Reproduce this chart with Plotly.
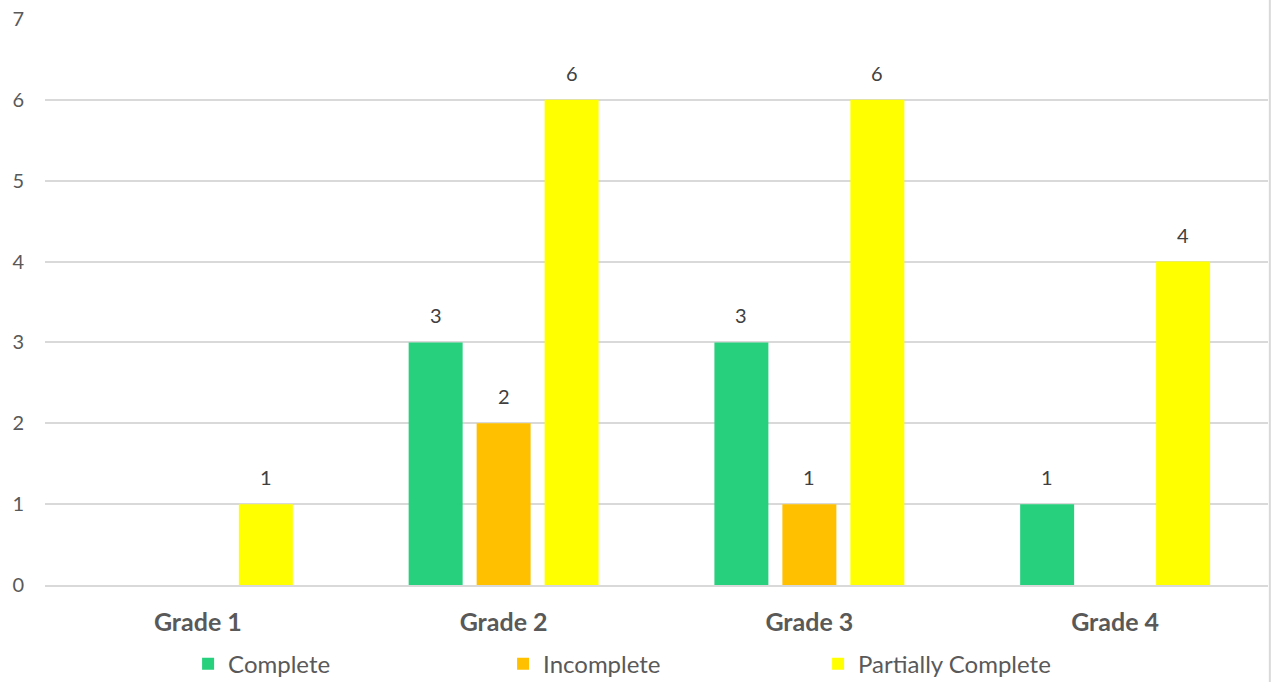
import plotly.graph_objects as go

categories = ["Grade 1", "Grade 2", "Grade 3", "Grade 4"]
complete = [None, 3, 3, 1]
incomplete = [None, 2, 1, None]
partially = [1, 6, 6, 4]
series_names = ["Complete", "Incomplete", "Partially Complete"]
series_colors = ["#26D07C", "#FFC000", "#FFFF00"]
y_ticks = [0, 1, 2, 3, 4, 5, 6, 7]

FONT = "Lato"
W, H = 1277, 682
L, R, T, B = 45, 9, 19, 97
plot_w = W - L - R
slot = plot_w / len(categories) * (1 - 0.333) / 3

fig = go.Figure()
all_series = [complete, incomplete, partially]
for name, vals, col in zip(series_names, all_series, series_colors):
    fig.add_trace(go.Bar(
        x=categories, y=vals, name=name, marker_color=col, marker_line_width=0,
    ))

annotations = []
for si, vals in enumerate(all_series):
    for cat, v in zip(categories, vals):
        if v is None:
            continue
        annotations.append(dict(
            x=cat, y=v, xref="x", yref="y", text=str(v), showarrow=False,
            xshift=(si - 1) * slot, yshift=27, yanchor="middle",
            font=dict(family=FONT, size=20, color="#404040"),
        ))

fig.update_layout(
    width=W, height=H,
    margin=dict(l=L, r=R, t=T, b=B, autoexpand=False),
    paper_bgcolor="white", plot_bgcolor="white",
    barmode="group", bargap=0.333, bargroupgap=0.206,
    font=dict(family=FONT, color="#595959"),
    showlegend=True,
    legend=dict(orientation="h", x=0.117, y=-0.14, xanchor="left", yanchor="middle",
                entrywidth=270, entrywidthmode="pixels",
                font=dict(family=FONT, size=24, color="#595959"),
                itemsizing="constant", traceorder="normal"),
    annotations=annotations,
)
fig.update_yaxes(range=[0, 7], tickvals=y_ticks, showgrid=True, gridcolor="#D9D9D9", gridwidth=1.5,
                 zeroline=False, showline=False, ticklabelstandoff=20,
                 tickfont=dict(family=FONT, size=20, color="#595959"))
fig.update_xaxes(showline=True, linecolor="#D9D9D9", linewidth=1.5, ticklabelstandoff=14,
                 tickfont=dict(family=FONT, size=25, color="#595959", weight="bold"))
fig.add_shape(type="line", xref="paper", yref="paper", x0=1.0015, x1=1.0015, y0=-0.2, y1=1.05,
              line=dict(color="#D9D9D9", width=2))
fig.write_html("out.html")
